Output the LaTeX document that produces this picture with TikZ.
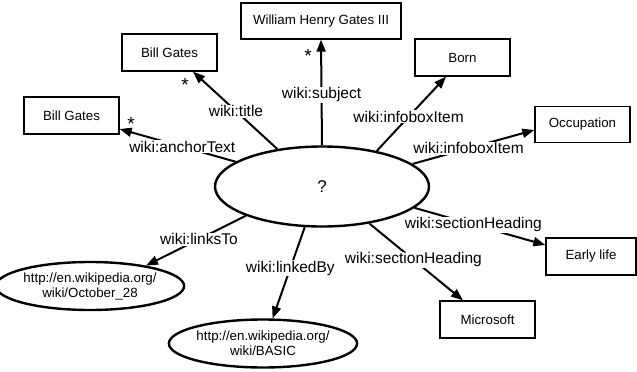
\documentclass[tikz,border=0pt]{standalone}
\usepackage{fontspec}
\setmainfont{Liberation Sans}
\usetikzlibrary{arrows.meta,shapes.geometric}
\begin{document}
\begin{tikzpicture}[x=1pt,y=-1pt,
  box/.style={draw,line width=1.3pt,minimum width=95pt,minimum height=37pt,inner sep=0pt,font=\fontsize{13.3}{15}\selectfont},
  res/.style={draw,ellipse,line width=2.4pt,minimum width=170pt,minimum height=48pt,inner sep=0pt,align=center,font=\fontsize{13.3}{15}\selectfont},
  edge/.style={line width=2pt,-{Triangle[length=12pt,width=9pt]}},
  lbl/.style={fill=white,inner sep=0.8pt,font=\fontsize{15.5}{17}\selectfont},
  star/.style={inner sep=0pt,font=\fontsize{19}{21}\selectfont}]
\useasboundingbox (0,0) rectangle (637,372);
\node[draw,ellipse,line width=2.4pt,minimum width=214pt,minimum height=80pt,inner sep=0pt,font=\fontsize{17}{19}\selectfont] (q) at (322,186.5) {?};
\node[box] (bg1) at (71.5,115.5) {Bill Gates};
\node[box] (bg2) at (169.5,52.5) {Bill Gates};
\node[box,minimum width=160pt,minimum height=36pt] (whg) at (321,21) {William Henry Gates III};
\node[box] (born) at (462.5,57.5) {Born};
\node[box,minimum height=36pt] (occ) at (582.5,124.5) {Occupation};
\node[box,minimum width=90pt] (early) at (591,256.5) {Early life};
\node[box] (ms) at (487.5,319.5) {Microsoft};
\node[res] (oct) at (90,286) {http://en.wikipedia.org/\\wiki/October\_28};
\node[res] (basic) at (263,343.5) {http://en.wikipedia.org/\\wiki/BASIC};
\draw[edge] (q.164.9) -- node[lbl,pos=0.46]{wiki:anchorText} ([yshift=-13.5pt]bg1.east);
\draw[edge] (q.140.3) -- node[lbl,pos=0.49]{wiki:title} ([xshift=23.5pt]bg2.south);
\draw[edge] (q.90) -- node[lbl,pos=0.48]{wiki:subject} (whg.south);
\draw[edge] (q.33.2) -- node[lbl,pos=0.46]{wiki:infoboxItem} ([xshift=-16.5pt]born.south);
\draw[edge] (q.14.5) -- node[lbl,pos=0.46]{wiki:infoboxItem} ([yshift=-5.5pt]occ.west);
\draw[edge] (q.-13) -- node[lbl,pos=0.45]{wiki:sectionHeading} ([yshift=11.5pt]early.west);
\draw[edge] (q.-38) -- node[lbl,pos=0.47]{wiki:sectionHeading} ([xshift=-24.5pt]ms.north);
\draw[edge] (q.-113.3) -- node[lbl,pos=0.45]{wiki:linkedBy} (basic.69);
\draw[edge] (q.201.3) -- node[lbl,pos=0.47]{wiki:linksTo} (oct.20);
\node[star] (s1) at (131,124) {*};
\node[star] (s2) at (185,85) {*};
\node[star] (s3) at (308,56) {*};
\end{tikzpicture}
\end{document}
